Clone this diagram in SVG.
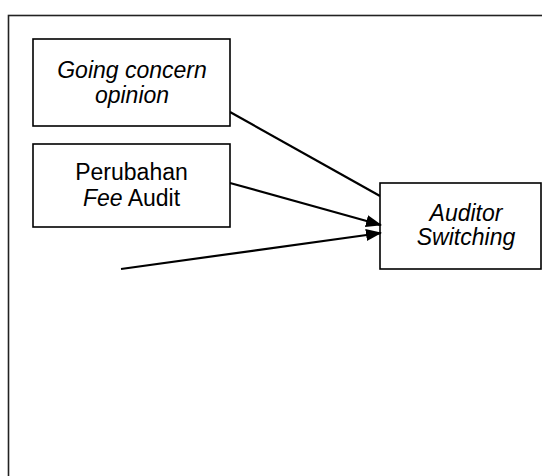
<svg xmlns="http://www.w3.org/2000/svg" width="542" height="476" viewBox="0 0 542 476">
<style>
.box{fill:#fff;stroke:#000;stroke-width:1.6}
.t{font-family:"Liberation Sans",Arial,sans-serif;font-size:23px;fill:#000;text-anchor:middle}
.i{font-style:italic}
.c{stroke:#000;stroke-width:2.2;fill:none}
</style>
<defs>
<marker id="ah" markerWidth="16" markerHeight="12" refX="15" refY="6" orient="auto" markerUnits="userSpaceOnUse">
<path d="M0,0 L16,6 L0,12 Z" fill="#000"/>
</marker>
</defs>
<rect x="8.5" y="15.5" width="560" height="500" fill="#fff" stroke="#222" stroke-width="1.6"/>
<g id="connectors">
<line class="c" x1="230" y1="112" x2="380" y2="196"/>
<line class="c" x1="230" y1="183" x2="381" y2="225"/>
<line class="c" x1="121" y1="269" x2="381" y2="233"/>
</g>
<g id="n1">
<rect class="box" x="33" y="39" width="197" height="87"/>
<text class="t i" x="132" y="78">Going concern</text>
<text class="t i" x="132" y="103">opinion</text>
</g>
<g id="n2">
<rect class="box" x="33" y="144" width="197" height="83"/>
<text class="t" x="131.5" y="180">Perubahan</text>
<text class="t" x="131.5" y="205.5"><tspan class="i">Fee</tspan> Audit</text>
</g>
<g id="n3">
<rect class="box" x="380" y="183" width="161" height="86"/>
<text class="t i" x="466" y="220.5">Auditor</text>
<text class="t i" x="466" y="245">Switching</text>
</g>
<g id="connector-heads">
<line class="c" x1="368" y1="221.5" x2="381" y2="225" marker-end="url(#ah)"/>
<line class="c" x1="368" y1="234.8" x2="381" y2="233" marker-end="url(#ah)"/>
</g>
</svg>
